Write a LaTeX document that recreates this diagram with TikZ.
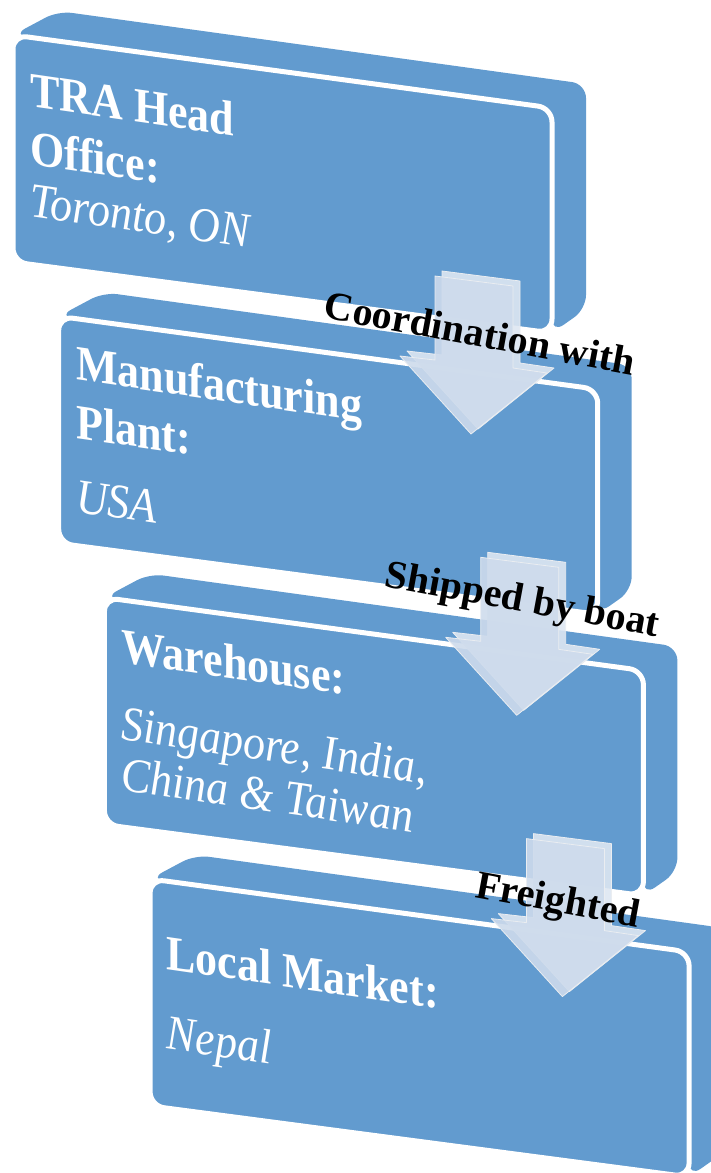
\documentclass[tikz,border=0pt]{standalone}
\usepackage{fontspec}
\setmainfont{Liberation Serif}
\usepackage{xcolor}

\definecolor{stepblue}{RGB}{98,155,207}
\definecolor{arrowfill}{RGB}{206,219,236}
\definecolor{arrowtop}{RGB}{222,231,242}
\definecolor{arrowedge}{RGB}{234,237,241}

\begin{document}
\begin{tikzpicture}[
        x=1pt, y=-1pt,
        face/.style={fill=stepblue, rounded corners=14pt},
        frontface/.style={face, draw=white, line width=5pt},
        boxtext/.style={
            text=white,
            align=left,
            anchor=north west,
            inner sep=0pt,
            yslant=-0.145,
            yscale=1.12,
            font=\fontsize{44}{52}\selectfont
        },
        steplabel/.style={inner sep=0pt, rotate=-10.5, font=\bfseries\fontsize{40}{44}\selectfont},
        arrowback/.style={fill=arrowtop, draw=arrowedge, line width=0.8pt, line join=round, fill opacity=0.9},
        arrowfront/.style={fill=arrowfill, draw=arrowedge, line width=0.8pt, line join=round, fill opacity=0.9}
    ]

    \useasboundingbox (0,0) rectangle (711,1173);
    \clip (0,0) rectangle (711,1173);

    % four slabs, each one a step further down and right
    \foreach \i in {0,...,3}{
        \begin{scope}[shift={(45.7*\i,281.3*\i)}]
            \path[face] (13,35) -- (58,11) -- (586,84) -- (586,309) -- (552,333) -- (552,108) -- cycle;
            \path[frontface] (13,35) -- (552,108) -- (552,333) -- (13,262) -- cycle;
        \end{scope}
    }

    % block arrows from one slab down to the next
    \foreach \i in {0,1,2}{
        \begin{scope}[shift={(45.7*\i,281.3*\i)}]
            \path[arrowback] (442,271) -- (520,281) -- (520,363) -- (554,368) -- (478,429) -- (407,351) -- (442,355) -- cycle;
            \path[arrowfront] (435,276) -- (513,286) -- (513,368) -- (547,373) -- (471,434) -- (400,356) -- (435,360) -- cycle;
        \end{scope}
    }

    \node[boxtext] (office) at (30,72) {\textbf{TRA Head}\\\textbf{Office:}\\[-6pt]\textit{Toronto, ON}};
    \node[boxtext] (plant) at (76,345) {\textbf{Manufacturing}\\\textbf{Plant:}\\[14pt]\textit{USA}};
    \node[boxtext] (warehouse) at (121,628) {\textbf{Warehouse:}\\[17pt]\textit{Singapore, India,}\\[-7pt]\textit{China \& Taiwan}};
    \node[boxtext] (market) at (166,935) {\textbf{Local Market:}\\[19pt]\textit{Nepal}};

    \node[steplabel] (coord) at (480,333) {Coordination with};
    \node[steplabel] (shipped) at (522,602) {Shipped by boat};
    \node[steplabel] (freight) at (558,903) {Freighted};

\end{tikzpicture}
\end{document}
